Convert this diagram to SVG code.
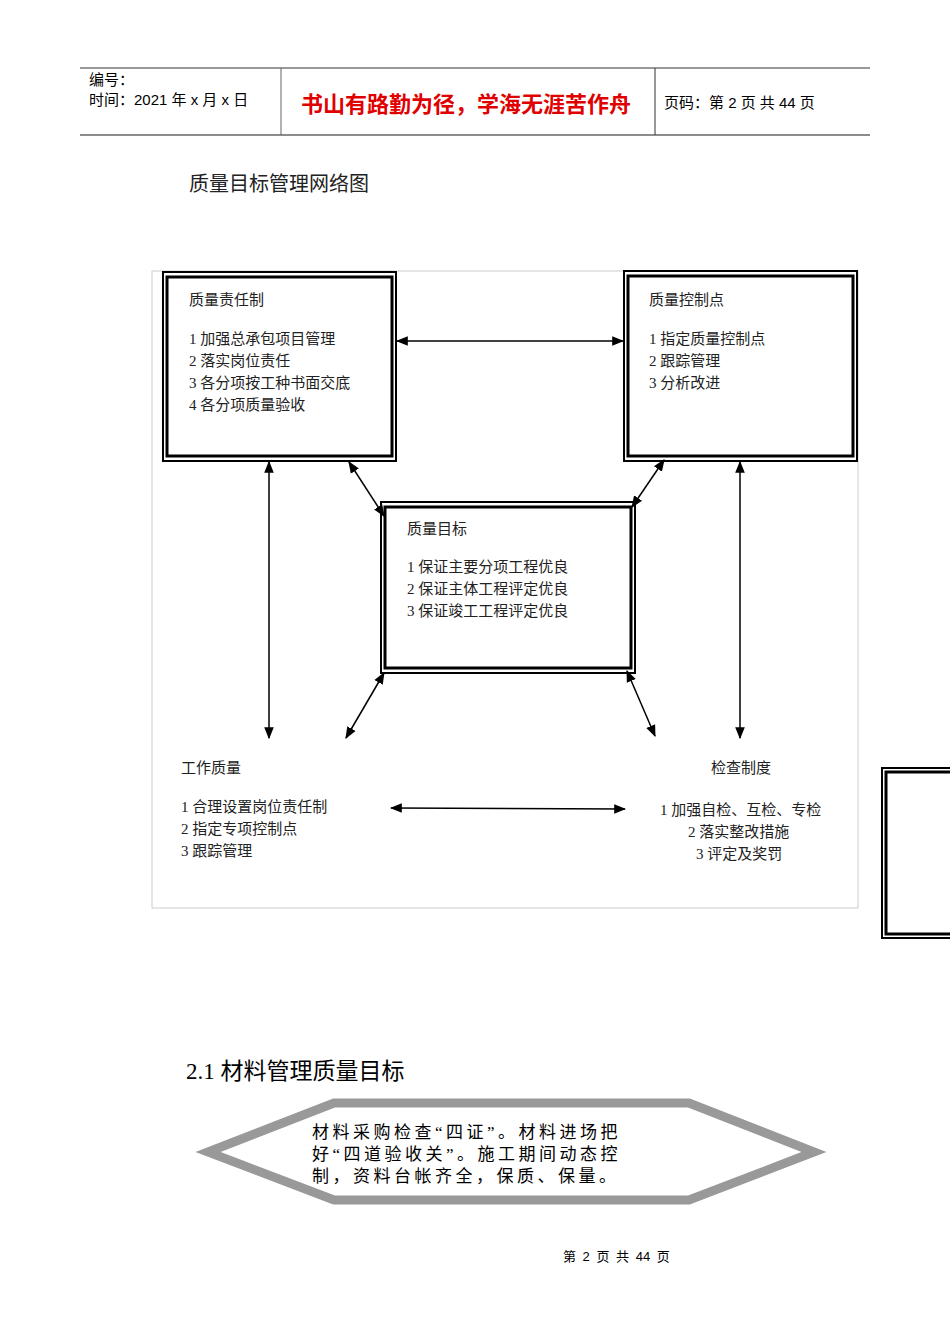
<svg xmlns="http://www.w3.org/2000/svg" width="950" height="1344" viewBox="0 0 950 1344">
<style>
.s{font-family:"Liberation Sans","Noto Sans CJK SC",sans-serif;}
.f{font-family:"Liberation Serif","Noto Sans CJK SC",serif;font-size:15px;fill:#222;}
.h{font-size:17px;letter-spacing:3.5px;fill:#000;}
.o{fill:none;stroke:#000;stroke-width:2;}
.i{fill:#fff;stroke:#000;stroke-width:3;}
.c{stroke:#000;stroke-width:1.5;fill:none;marker-start:url(#a);marker-end:url(#a);}
</style>
<defs><marker id="a" viewBox="0 0 10 10" refX="9" refY="5" markerWidth="8" markerHeight="8" orient="auto-start-reverse"><path d="M0,1 L10,5 L0,9 z" fill="#000"/></marker></defs>
<rect width="950" height="1344" fill="#fff"/>
<g id="header">
<line x1="80" y1="68" x2="870" y2="68" stroke="#333" stroke-width="1"/>
<line x1="80" y1="135" x2="870" y2="135" stroke="#666" stroke-width="1.5"/>
<line x1="281" y1="68" x2="281" y2="135" stroke="#666"/>
<line x1="655" y1="68" x2="655" y2="135" stroke="#333"/>
<text class="s" x="89" y="85" font-size="15">编号：</text>
<text class="s" x="89" y="105" font-size="15">时间：2021 年 x 月 x 日</text>
<text class="s" x="301" y="112" font-size="22" fill="#e00000" font-weight="bold">书山有路勤为径，学海无涯苦作舟</text>
<text class="s" x="664" y="108" font-size="15">页码：第 2 页  共 44 页</text>
</g>
<text class="f" x="189" y="191" style="font-size:20px">质量目标管理网络图</text>
<rect x="152" y="271" width="706" height="637" fill="none" stroke="#ccc"/>
<g id="n1"><rect class="o" x="163" y="272" width="233" height="189"/><rect class="i" x="167" y="277" width="225" height="179"/>
<text class="f" x="189" y="305">质量责任制</text>
<text class="f" x="189" y="344">1 加强总承包项目管理</text><text class="f" x="189" y="366">2 落实岗位责任</text><text class="f" x="189" y="388">3 各分项按工种书面交底</text><text class="f" x="189" y="410">4 各分项质量验收</text></g>
<g id="n2"><rect class="o" x="624" y="271" width="233" height="190"/><rect class="i" x="628" y="276" width="225" height="180"/>
<text class="f" x="649" y="305">质量控制点</text>
<text class="f" x="649" y="344">1 指定质量控制点</text><text class="f" x="649" y="366">2 跟踪管理</text><text class="f" x="649" y="388">3 分析改进</text></g>
<g id="n3"><rect class="o" x="381" y="502" width="254" height="171"/><rect class="i" x="385" y="507" width="246" height="161"/>
<text class="f" x="407" y="534">质量目标</text>
<text class="f" x="407" y="572">1 保证主要分项工程优良</text><text class="f" x="407" y="594">2 保证主体工程评定优良</text><text class="f" x="407" y="616">3 保证竣工工程评定优良</text></g>
<g id="n4"><text class="f" x="181" y="773">工作质量</text>
<text class="f" x="181" y="812">1 合理设置岗位责任制</text><text class="f" x="181" y="834">2 指定专项控制点</text><text class="f" x="181" y="856">3 跟踪管理</text></g>
<g id="n5"><text class="f" x="711" y="773">检查制度</text>
<text class="f" x="660" y="815">1 加强自检、互检、专检</text><text class="f" x="688" y="837">2 落实整改措施</text><text class="f" x="696" y="859">3 评定及奖罚</text></g>
<g id="n6"><rect class="o" x="882" y="768" width="80" height="170"/><rect class="i" x="886" y="772" width="76" height="162"/></g>
<g id="connectors">
<line class="c" x1="397" y1="341" x2="623" y2="341"/>
<line class="c" x1="269" y1="462" x2="269" y2="738"/>
<line class="c" x1="349" y1="462" x2="384" y2="516"/>
<line class="c" x1="664" y1="460" x2="632" y2="507"/>
<line class="c" x1="740" y1="462" x2="740" y2="738"/>
<line class="c" x1="384" y1="673" x2="346" y2="738"/>
<line class="c" x1="627" y1="671" x2="655" y2="736"/>
<line class="c" x1="391" y1="808" x2="625" y2="809"/>
</g>
<text class="f" x="186" y="1079" style="font-size:23px;fill:#000">2.1 材料管理质量目标</text>
<g id="hex"><polygon points="208,1152 334,1103 689,1103 814,1152 689,1200 334,1200" fill="#fff" stroke="#999" stroke-width="9"/>
<text class="f h" x="312" y="1138">材料采购检查“四证”。材料进场把</text>
<text class="f h" x="312" y="1160">好“四道验收关”。施工期间动态控</text>
<text class="f h" x="312" y="1182">制，资料台帐齐全，保质、保量。</text></g>
<text class="s" x="563" y="1261" font-size="13" word-spacing="3">第 2 页 共 44 页</text>
</svg>
